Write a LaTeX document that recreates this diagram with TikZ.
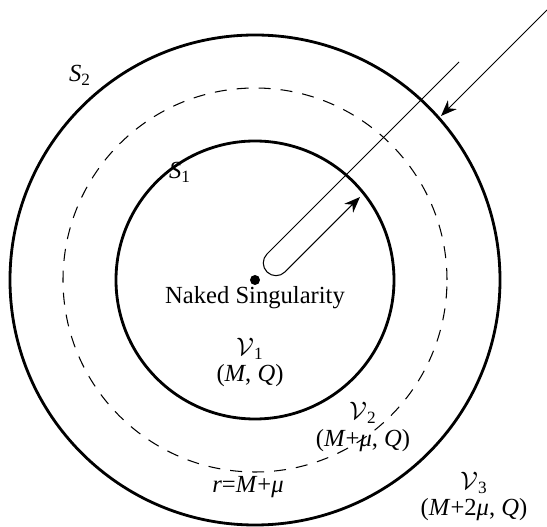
\documentclass[tikz,border=0pt]{standalone}
\usepackage{fontspec}
\setmainfont{Liberation Serif}
\usetikzlibrary{arrows.meta,positioning}
\tikzset{
  ring/.style={line width=1.6pt},
  ray/.style={line width=0.6pt},
  ar/.style={-{Stealth[length=3.2mm,width=2.5mm]},ray},
  lb/.style={font=\fontsize{14}{15}\selectfont,inner sep=0pt,align=center}
}
\begin{document}
\begin{tikzpicture}
\useasboundingbox (-5.1,-4.94) rectangle (5.84,5.6);
% shells
\draw[ring] (0,0) circle (2.78);
\draw[ring] (0,0) circle (4.9);
\draw[ray,dash pattern=on 2.4mm off 2mm] (0,0) circle (3.84);
% singularity
\fill (0,0) circle (0.1);
\node[lb] (ns) at (0,-0.36) {Naked Singularity};
% surface and region labels
\node[lb] (s2) at (-3.5,4.1) {\textit{S}\textsubscript{2}};
\node[lb] (s1) at (-1.5,2.16) {\textit{S}\textsubscript{1}};
\node[lb] (v1) at (-0.1,-1.65) {$\mathcal{V}$\textsubscript{1}\\(\textit{M}, \textit{Q})};
\node[lb] (v2) at (2.16,-2.94) {$\mathcal{V}$\textsubscript{2}\\(\textit{M}+\textit{μ}, \textit{Q})};
\node[lb] (v3) at (4.38,-4.33) {$\mathcal{V}$\textsubscript{3}\\(\textit{M}+2\textit{μ}, \textit{Q})};
\node[lb] (rr) at (-0.14,-4.14) {\textit{r}=\textit{M}+\textit{μ}};
% in-falling and bounced rays
\coordinate (src) at (5.84,5.40);
\coordinate (hit) at (3.72,3.28);
\coordinate (far) at (4.08,4.36);
\coordinate (tip) at (2.1,1.66);
\draw[ar] (src) -- (hit);
\draw[ar] (far) -- (0.24,0.52) arc[start angle=135,end angle=315,radius=0.254] -- (tip);
\end{tikzpicture}
\end{document}
